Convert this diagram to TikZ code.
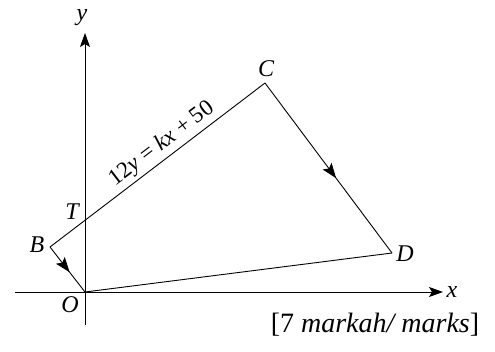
\documentclass[tikz,border=0pt]{standalone}
\usepackage{fontspec}
\setmainfont{Liberation Serif}
\usetikzlibrary{arrows.meta, decorations.markings}

\tikzset{
  axis/.style={line width=0.9pt, -{Stealth[length=14pt, width=10pt, inset=3pt]}},
  side/.style={line width=0.9pt},
  midarrow/.style={side, postaction={decorate}, decoration={markings,
      mark=at position 0.56 with {\arrow{Stealth[length=15pt, width=11pt, inset=3pt]}}}},
  ptlabel/.style={font=\fontsize{24}{24}\selectfont\itshape, inner sep=1pt}
}

\begin{document}
\begin{tikzpicture}[x=1pt, y=1pt]
    \useasboundingbox (0,0) rectangle (495,351);

    % points
    \coordinate (O) at (85,59);
    \coordinate (B) at (50,104);
    \coordinate (T) at (85,131);
    \coordinate (C) at (265,268);
    \coordinate (D) at (392,98);
    \coordinate (xstart) at (15,59);
    \coordinate (xend) at (443,59);
    \coordinate (ystart) at (85,26);
    \coordinate (yend) at (85,318);

    % axes
    \draw[axis] (xstart) -- (xend);
    \draw[axis] (ystart) -- (yend);

    % quadrilateral
    \draw[side] (B) -- (C)
      node[sloped, above=2pt, pos=0.56, font=\fontsize{23}{23}\selectfont, inner sep=1pt]
      (eqn) {12\textit{y} = \textit{kx} + 50};
    \draw[midarrow] (C) -- (D);
    \draw[side] (D) -- (O);
    \draw[midarrow] (B) -- (O);

    % labels
    \node[ptlabel] (lx) at (452,59) {x};
    \node[ptlabel] (ly) at (82,333) {y};
    \node[ptlabel] (lO) at (70,46) {O};
    \node[ptlabel] (lB) at (37,106) {B};
    \node[ptlabel] (lT) at (72,139) {T};
    \node[ptlabel] (lC) at (266,282) {C};
    \node[ptlabel] (lD) at (405,97) {D};

    % marks
    \node[font=\fontsize{28}{28}\selectfont, inner sep=0pt] (marks) at (375,26)
      {[7 \textit{markah/ marks}]};
  \end{tikzpicture}
\end{document}
